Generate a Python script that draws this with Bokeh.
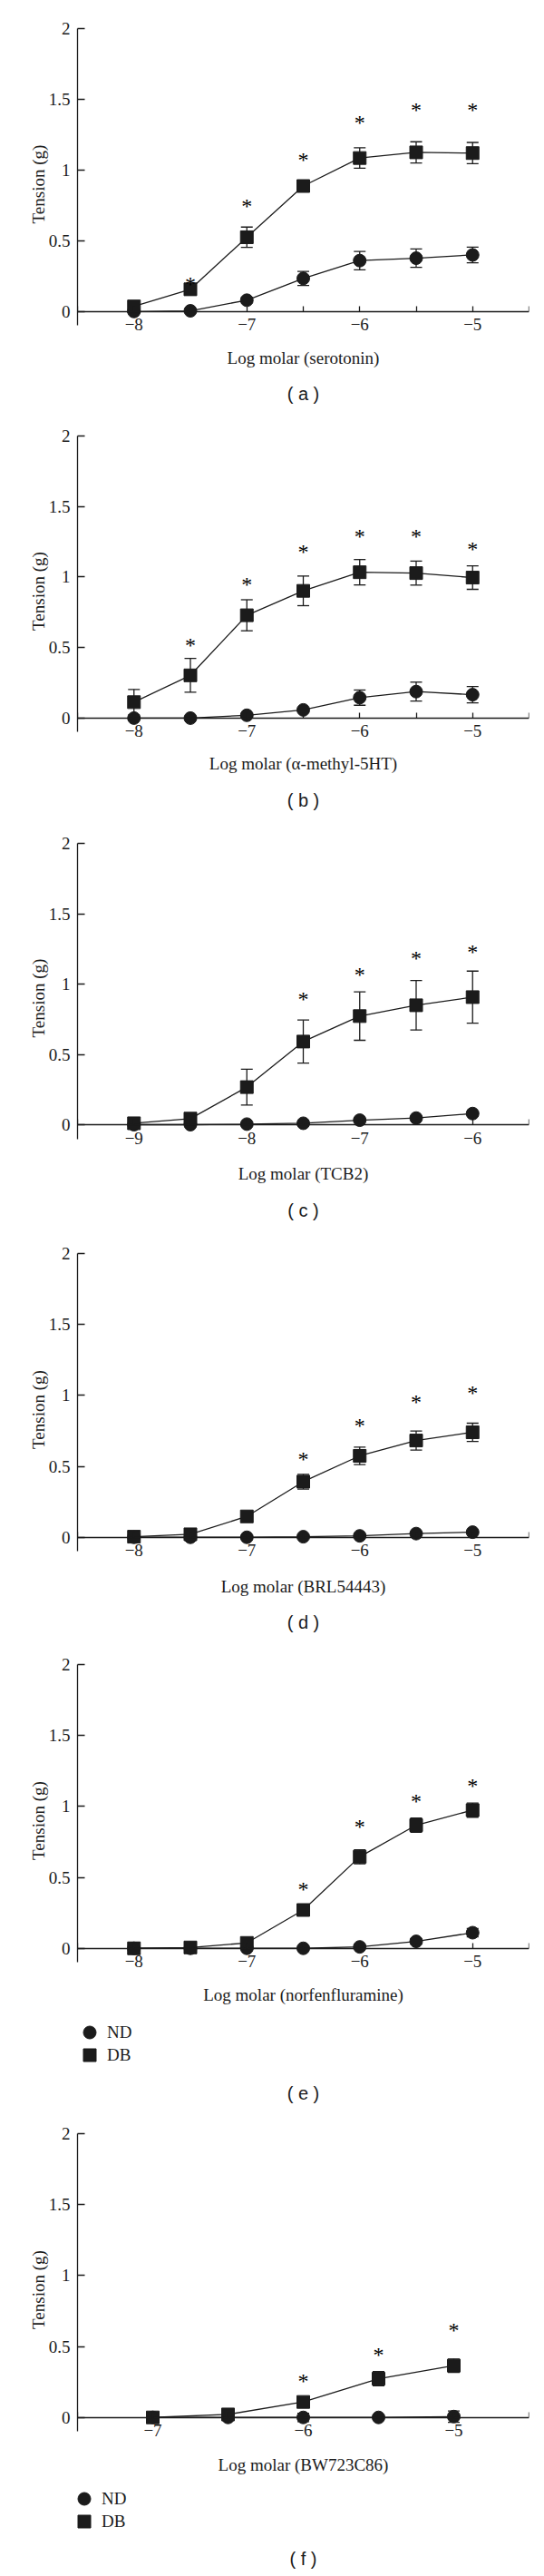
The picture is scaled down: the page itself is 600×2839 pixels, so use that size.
from bokeh.plotting import figure
from bokeh.models import (ColumnDataSource, Whisker, TeeHead, FixedTicker, Legend,
                          LegendItem, Title, Range1d, CustomJSTickFormatter, LinearAxis)
from bokeh.layouts import column
from bokeh.embed import file_html
from bokeh.resources import INLINE
from bokeh.core.properties import value

# ---------------- data ----------------
panel_tags = ["a", "b", "c", "d", "e", "f"]
x_titles = ["Log molar (serotonin)", "Log molar (\u03b1-methyl-5HT)", "Log molar (TCB2)",
            "Log molar (BRL54443)", "Log molar (norfenfluramine)", "Log molar (BW723C86)"]

a_x = [-8, -7.5, -7, -6.5, -6, -5.5, -5]
a_nd = [0.0, 0.005, 0.08, 0.234, 0.36, 0.377, 0.40]
a_nd_err = [0.0, 0.0, 0.02, 0.05, 0.065, 0.065, 0.055]
a_db = [0.036, 0.157, 0.525, 0.887, 1.085, 1.125, 1.12]
a_db_err = [0.01, 0.04, 0.072, 0.03, 0.072, 0.075, 0.075]
a_star_x = [-7.5, -7, -6.5, -6, -5.5, -5]
a_star_y = [0.206, 0.76, 1.089, 1.351, 1.436, 1.436]

b_x = [-8, -7.5, -7, -6.5, -6, -5.5, -5]
b_nd = [0.0, 0.0, 0.02, 0.058, 0.145, 0.188, 0.166]
b_nd_err = [0.0, 0.0, 0.01, 0.01, 0.054, 0.067, 0.058]
b_db = [0.113, 0.303, 0.729, 0.902, 1.034, 1.028, 0.996]
b_db_err = [0.09, 0.12, 0.11, 0.105, 0.09, 0.085, 0.083]
b_star_x = [-7.5, -7, -6.5, -6, -5.5, -5]
b_star_y = [0.527, 0.96, 1.19, 1.30, 1.30, 1.215]

c_x = [-9, -8.5, -8, -7.5, -7, -6.5, -6]
c_nd = [0.0, 0.0, 0.004, 0.01, 0.032, 0.047, 0.079]
c_nd_err = [0.0, 0.0, 0.01, 0.0, 0.0, 0.0, 0.01]
c_db = [0.01, 0.043, 0.267, 0.591, 0.772, 0.849, 0.907]
c_db_err = [0.01, 0.01, 0.128, 0.153, 0.172, 0.176, 0.185]
c_star_x = [-7.5, -7, -6.5, -6]
c_star_y = [0.907, 1.078, 1.195, 1.244]

d_x = [-8, -7.5, -7, -6.5, -6, -5.5, -5]
d_nd = [0.0, 0.0, 0.0, 0.004, 0.01, 0.026, 0.036]
d_nd_err = [0.0, 0.0, 0.0, 0.0, 0.01, 0.0, 0.0]
d_db = [0.004, 0.021, 0.147, 0.392, 0.574, 0.682, 0.74]
d_db_err = [0.02, 0.01, 0.015, 0.052, 0.062, 0.067, 0.064]
d_star_x = [-6.5, -6, -5.5, -5]
d_star_y = [0.565, 0.804, 0.968, 1.032]

e_x = [-8, -7.5, -7, -6.5, -6, -5.5, -5]
e_nd = [0.0, 0.0, 0.0, 0.0, 0.01, 0.049, 0.11]
e_nd_err = [0.0, 0.0, 0.0, 0.0, 0.0, 0.02, 0.03]
e_db = [0.0, 0.006, 0.038, 0.27, 0.645, 0.868, 0.974]
e_db_err = [0.04, 0.01, 0.01, 0.04, 0.05, 0.05, 0.05]
e_star_x = [-6.5, -6, -5.5, -5]
e_star_y = [0.43, 0.872, 1.053, 1.16]

f_x = [-7, -6.5, -6, -5.5, -5]
f_nd = [0.0, 0.0, 0.0, 0.0, 0.006]
f_nd_err = [0.0, 0.0, 0.03, 0.0, 0.04]
f_db = [0.0, 0.021, 0.109, 0.273, 0.365]
f_db_err = [0.02, 0.01, 0.02, 0.05, 0.047]
f_star_x = [-6, -5.5, -5]
f_star_y = [0.267, 0.454, 0.629]

panels = [
    (a_x, a_nd, a_nd_err, a_db, a_db_err, a_star_x, a_star_y),
    (b_x, b_nd, b_nd_err, b_db, b_db_err, b_star_x, b_star_y),
    (c_x, c_nd, c_nd_err, c_db, c_db_err, c_star_x, c_star_y),
    (d_x, d_nd, d_nd_err, d_db, d_db_err, d_star_x, d_star_y),
    (e_x, e_nd, e_nd_err, e_db, e_db_err, e_star_x, e_star_y),
    (f_x, f_nd, f_nd_err, f_db, f_db_err, f_star_x, f_star_y),
]
legend_panels = ["e", "f"]
series_labels = ["ND", "DB"]
series_markers = ["circle", "square"]
y_ticks = [0, 0.5, 1, 1.5, 2]

# ---------------- layout / styling ----------------
INK = "#1b1b1b"
SERIF = "Liberation Serif"
SANS = "Liberation Sans"
FRAME_H = 344
fig_heights = [457, 449, 452, 453, 401, 402]
border_tops = [31, 23, 23, 23, 23, 23]
xtitle_standoffs = [9, 8, 12, 12, 9, 10]
caption_standoffs = [26, 28, 28, 26, 0, 0]
# legend+caption strip under panels e and f
leg_fig_heights = {"e": 116, "f": 109}
leg_frame_heights = {"e": 72, "f": 68}
leg_x = {"e": -4, "f": -10}
leg_item_y = [27, 2]          # screen offsets of the ND and DB keys
leg_caption_standoffs = {"e": 18, "f": 17}
NAN = float("nan")


def make_caption(tag, standoff):
    return Title(text="( %s )" % tag, align="center", offset=-10, standoff=standoff,
                 text_font=SANS, text_font_size="20px", text_font_style="normal",
                 text_color=INK)


figs = []
for i, (tag, xt, data) in enumerate(zip(panel_tags, x_titles, panels)):
    H = fig_heights[i]
    TOP = border_tops[i]
    xs, nd, nd_err, db, db_err, sx, sy = data
    x0, x1 = min(xs) - 0.5, max(xs) + 0.5
    p = figure(width=592, height=H, output_backend="svg", toolbar_location=None,
               x_range=Range1d(x0, x1), y_range=Range1d(-0.2, 2.0),
               min_border_left=85, min_border_right=9, min_border_top=TOP,
               min_border_bottom=H - TOP - FRAME_H)
    p.outline_line_color = None
    p.grid.visible = False

    # error bars
    for ys, es in ((nd, nd_err), (db, db_err)):
        bx = [x for x, e in zip(xs, es) if e > 0]
        up = [y + e for y, e in zip(ys, es) if e > 0]
        lo = [y - e for y, e in zip(ys, es) if e > 0]
        src = ColumnDataSource(dict(x=bx, upper=up, lower=lo))
        w = Whisker(source=src, base="x", upper="upper", lower="lower",
                    line_color=INK, line_width=1.3,
                    upper_head=TeeHead(size=13, line_color=INK, line_width=1.3),
                    lower_head=TeeHead(size=13, line_color=INK, line_width=1.3))
        p.add_layout(w)

    p.line(xs, nd, line_color=INK, line_width=1.3)
    p.line(xs, db, line_color=INK, line_width=1.3)
    p.scatter(xs, nd, marker=series_markers[0], size=14, fill_color=INK, line_color=INK)
    p.scatter(xs, db, marker=series_markers[1], size=14, fill_color=INK, line_color=INK)

    # significance asterisks
    p.text(sx, sy, text=["*"] * len(sx), text_font=value(SERIF), text_font_size="24px",
           text_align="center", text_baseline="middle", y_offset=2, text_color="#000000")

    # x axis drawn at y = 0 (line, ticks, tick labels)
    xa = p.xaxis[0]
    xa.fixed_location = 0
    majors = list(range(int(x0 + 0.5), int(x1 - 0.5) + 1))
    minors = [m + 0.5 for m in range(int(x0 - 0.5), int(x1 + 0.5))]
    xa.ticker = FixedTicker(ticks=majors, minor_ticks=[m for m in minors if x0 <= m <= x1])
    xa.formatter = CustomJSTickFormatter(code="return tick < 0 ? '\\u2212' + Math.abs(tick) : String(tick);")
    xa.major_tick_in = 6
    xa.major_tick_out = 0
    xa.minor_tick_in = 6
    xa.minor_tick_out = 0
    xa.major_label_standoff = 8

    # separate axis carrying only the x title, below the frame
    xt_axis = LinearAxis(ticker=FixedTicker(ticks=[]), axis_label=xt,
                         axis_line_color=None, major_tick_line_color=None,
                         minor_tick_line_color=None, major_tick_in=0, major_tick_out=0,
                         minor_tick_in=0, minor_tick_out=0, major_label_standoff=0,
                         axis_label_standoff=xtitle_standoffs[i], axis_label_text_font=SERIF,
                         axis_label_text_font_size="19px", axis_label_text_font_style="normal",
                         axis_label_text_color=INK)
    p.add_layout(xt_axis, "below")

    ya = p.yaxis[0]
    ya.ticker = FixedTicker(ticks=y_ticks)
    ya.bounds = (-0.1, 2.0)
    ya.formatter = CustomJSTickFormatter(code="return String(tick);")
    ya.major_tick_in = 8
    ya.major_tick_out = 0
    ya.axis_label = "Tension (g)"
    ya.major_label_standoff = 8
    ya.axis_label_standoff = -2

    for ax in (xa, ya):
        ax.axis_line_color = INK
        ax.axis_line_width = 1.3
        ax.major_tick_line_color = INK
        ax.major_tick_line_width = 1.3
        ax.minor_tick_line_width = 1.3
        ax.major_label_text_font = SERIF
        ax.major_label_text_font_size = "19px"
        ax.major_label_text_color = INK
        ax.axis_label_text_font = SERIF
        ax.axis_label_text_font_size = "19px"
        ax.axis_label_text_font_style = "normal"
        ax.axis_label_text_color = INK
    xa.minor_tick_line_color = INK
    ya.minor_tick_line_color = None

    if tag not in legend_panels:
        p.add_layout(make_caption(tag, caption_standoffs[i]), "below")
        figs.append(p)
        continue

    figs.append(p)
    # strip holding the legend and the caption
    LH = leg_fig_heights[tag]
    LF = leg_frame_heights[tag]
    q = figure(width=592, height=LH, output_backend="svg", toolbar_location=None,
               x_range=Range1d(0, 1), y_range=Range1d(0, 1),
               x_axis_location=None, y_axis_location=None,
               min_border_left=85, min_border_right=9, min_border_top=0,
               min_border_bottom=LH - LF)
    q.outline_line_color = None
    q.grid.visible = False
    for lab, mk, ly in zip(series_labels, series_markers, leg_item_y):
        # legend key only (no visible data point)
        k = q.scatter([NAN], [NAN], marker=mk, size=14, fill_color=INK, line_color=INK)
        leg = Legend(items=[LegendItem(label=lab, renderers=[k], index=0)],
                     location=(leg_x[tag], ly), orientation="vertical")
        leg.margin = 0
        leg.padding = 0
        leg.spacing = 0
        leg.glyph_width = 35
        leg.glyph_height = 35
        leg.label_height = 35
        leg.label_standoff = 2
        leg.border_line_color = None
        leg.background_fill_alpha = 0
        leg.label_text_font = SERIF
        leg.label_text_font_size = "19px"
        leg.label_text_color = INK
        q.add_layout(leg)
    q.add_layout(make_caption(tag, leg_caption_standoffs[tag]), "below")
    figs.append(q)

layout = column(*figs, spacing=0)
open("out.html", "w").write(file_html(layout, INLINE))
